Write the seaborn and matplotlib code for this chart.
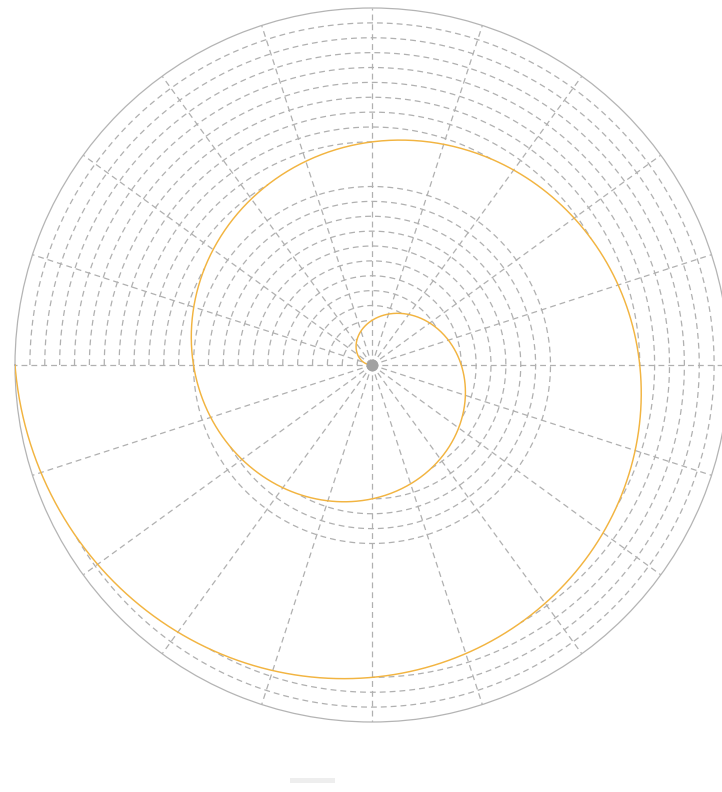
import numpy as np
import pandas as pd
import matplotlib
matplotlib.use("Agg")
import matplotlib.pyplot as plt
from matplotlib.patches import Rectangle
import seaborn as sns

# Spiral samples: cumulative sweep (degrees) and radius (axis units)
sweep_deg = [0, 45, 90, 135, 180, 225, 270, 315, 360,
             405, 450, 495, 540, 585, 630, 675, 720]
radius = [0, 1.5, 3, 4.5, 6, 7.5, 9, 10.5, 12,
          13.5, 15, 16.5, 18, 19.5, 21, 22.5, 24]

# Axis scale
radius_max = 24
ring_levels = list(range(1, 24))
spoke_deg = list(range(0, 360, 18))

GRID = "#b0b0b0"
SPINE = "#b4b4b4"
LINE = "#f2b440"
DASH = (0, (4.2, 2.9))

sns.set_style("white")
plt.rcParams["font.family"] = ["DejaVu Sans"]
plt.rcParams["lines.scale_dashes"] = False

fig = plt.figure(figsize=(7.22, 7.92), dpi=100)
fig.patch.set_facecolor("white")
ax = fig.add_axes([15 / 722, 70 / 792, 714 / 722, 714 / 792], projection="polar")
ax.set_facecolor("white")
ax.set_theta_zero_location("W")
ax.set_theta_direction(-1)

# Spokes every 18 degrees, dashed, running from the centre to the rim
ax.set_thetagrids(spoke_deg, labels=[])
ax.set_yticks([])
ax.xaxis.grid(True, color=GRID, linewidth=0.9, linestyle=DASH)
ax.tick_params(axis="both", length=0, pad=0)
ax.spines["polar"].set_color(SPINE)
ax.spines["polar"].set_linewidth(0.9)

# Rings: each ring is traced across the sweep the spiral makes before it
# reaches that ring's radius on its current turn
for k in ring_levels:
    reach = float(np.interp(k, radius, sweep_deg))
    span = reach if reach <= 360 else reach - 360
    t = np.radians(np.linspace(0, span, max(2, int(span) * 2 + 1)))
    ax.plot(t, np.full_like(t, k), color=GRID, linewidth=0.9,
            linestyle=DASH, zorder=1)

# The spiral itself
df = pd.DataFrame({"sweep": np.radians(sweep_deg), "radius": radius})
sns.lineplot(data=df, x="sweep", y="radius", ax=ax, color=LINE,
             linewidth=1.05, sort=False, zorder=3)
spiral = ax.lines[-1]
spiral.get_path()._interpolation_steps = 90

ax.scatter([0], [0], s=75, color="#a2a2a2", linewidths=0, zorder=4)

ax.set_xlim(0, 2 * np.pi)
ax.set_ylim(0, radius_max)
ax.set_xlabel("")
ax.set_ylabel("")

# Legend strip at the bottom edge
fig.add_artist(Rectangle((290 / 722, 9 / 792), 45 / 722, 5 / 792,
                         transform=fig.transFigure, color="#eeeeee",
                         linewidth=0))

fig.savefig("out.png", dpi=100)
